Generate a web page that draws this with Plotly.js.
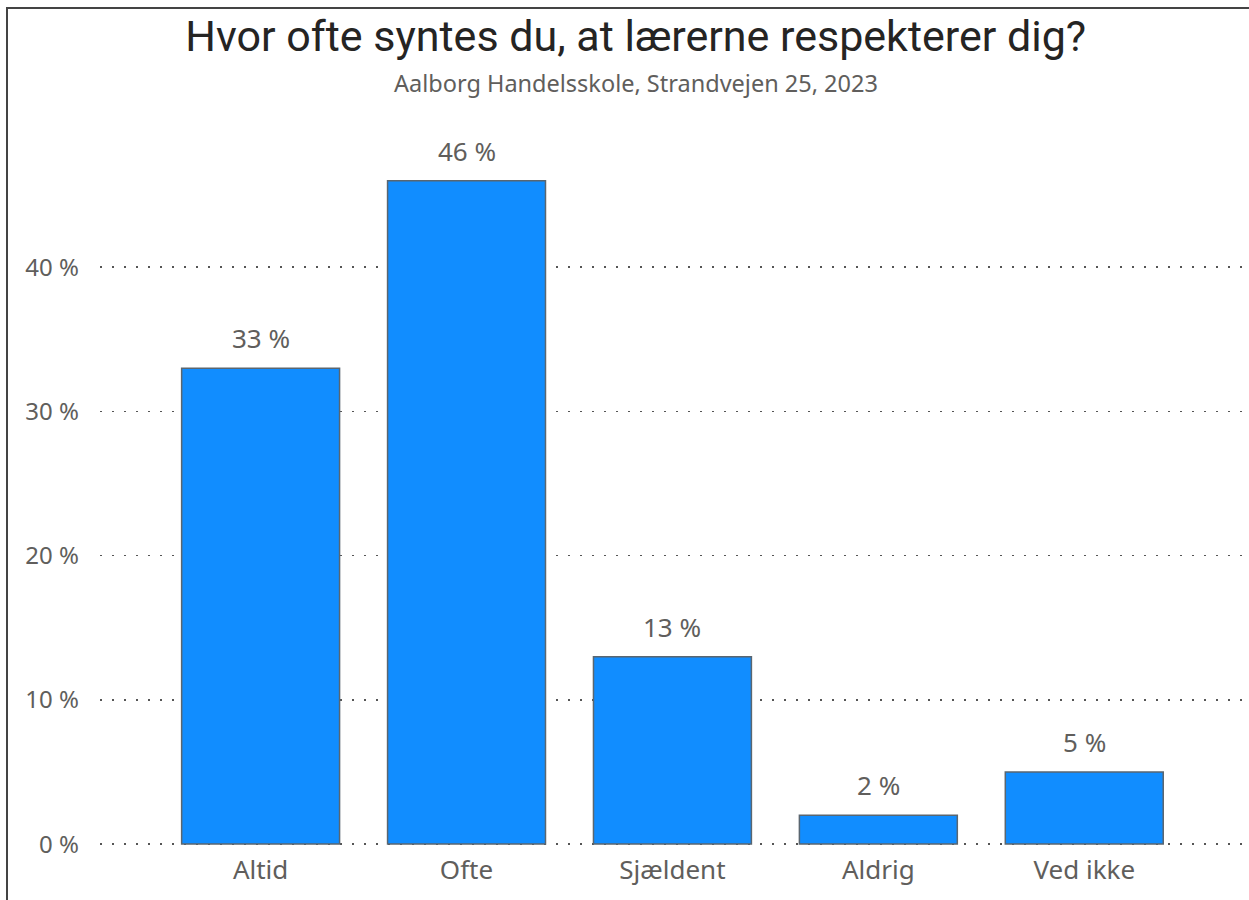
<!DOCTYPE html>
<html>
<head>
<meta charset="utf-8">
<script src="https://cdn.plot.ly/plotly-3.0.1.min.js"></script>
<style>
  html, body { margin: 0; padding: 0; background: #fff; }
  #wrap { position: relative; width: 1249px; height: 900px; overflow: hidden; }
  #chart { position: absolute; left: 0; top: 0; width: 1249px; height: 900px; }
  #frame { position: absolute; left: 6px; top: 7px; width: 1300px; height: 1000px;
           border-left: 2px solid #444; border-top: 2px solid #444; pointer-events: none; }
</style>
</head>
<body>
<div id="wrap">
  <div id="chart"></div>
  <div id="frame"></div>
</div>
<script>
const categories = ["Altid", "Ofte", "Sjældent", "Aldrig", "Ved ikke"];
const values = [33, 46, 13, 2, 5];
const yTickValues = [0, 10, 20, 30, 40];
const yTickLabels = ["0 %", "10 %", "20 %", "30 %", "40 %"];
const titleText = "Hvor ofte syntes du, at lærerne respekterer dig?";
const subtitleText = "Aalborg Handelsskole, Strandvejen 25, 2023";

const fam = "Noto Sans, Open Sans, sans-serif";
const xLabelFont = { family: fam, size: 26, color: "#605E5C" };
const yLabelFont = { family: fam, size: 24, color: "#605E5C" };
const valueFont = { family: fam, size: 26, color: "#605E5C" };

const trace = {
  type: "bar",
  x: categories,
  y: values,
  width: 0.767,
  marker: { color: "#118DFF", line: { color: "#5A6670", width: 1.5 } },
  hoverinfo: "skip"
};

// plot area: 0 % at y=844px, 50 % at ~122.75px; range starts a bit below 0 so the 0 % gridline is drawn
const annotations = categories.map((c, i) => ({
  x: c, y: values[i], xref: "x", yref: "y",
  text: values[i] + " %", showarrow: false,
  yanchor: "bottom", yshift: 10,
  font: valueFont
}));
annotations.push({
  xref: "paper", yref: "paper", x: (636 - 100) / 1149, y: (847 - 83) / 724,
  xanchor: "center", yanchor: "middle",
  text: subtitleText, showarrow: false,
  font: { family: fam, size: 23.5, color: "#605E5C" }
});

const layout = {
  width: 1249, height: 900,
  margin: { l: 100, r: 0, t: 123, b: 53 },
  paper_bgcolor: "#ffffff", plot_bgcolor: "#ffffff",
  showlegend: false,
  title: {
    text: titleText,
    x: 0.509, xref: "container", xanchor: "center",
    y: 1 - 36/900, yref: "container", yanchor: "middle",
    font: { family: "Roboto, DejaVu Sans Condensed, sans-serif", size: 43, color: "#252423", weight: 400 }
  },
  xaxis: {
    type: "category",
    range: [-0.78, 4.8],
    showgrid: false, zeroline: false, showline: false,
    ticks: "", ticklabelstandoff: 5,
    tickfont: xLabelFont
  },
  yaxis: {
    range: [-0.2, 50],
    tickvals: yTickValues, ticktext: yTickLabels,
    showgrid: true, gridcolor: "#555", gridwidth: 1.6, griddash: "1.6px,10.4px",
    zeroline: false, showline: false, ticks: "",
    ticklabelstandoff: 20,
    tickfont: yLabelFont
  },
  annotations: annotations
};

Plotly.newPlot("chart", [trace], layout, { displayModeBar: false, staticPlot: true });
</script>
</body>
</html>
